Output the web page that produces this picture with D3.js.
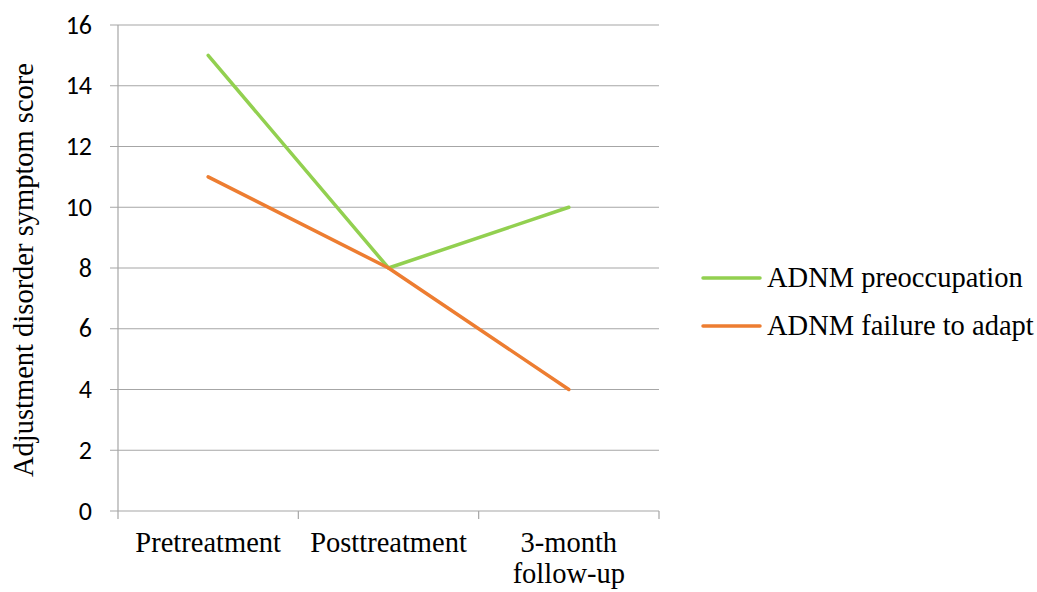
<!DOCTYPE html>
<html><head><meta charset="utf-8">
<script src="https://cdn.jsdelivr.net/npm/d3@7"></script>
<style>body{margin:0;background:#fff;} svg{display:block;}</style>
</head><body>
<svg id="c" width="1037" height="592"></svg>
<script>
const categories = [["Pretreatment"], ["Posttreatment"], ["3-month", "follow-up"]];
const seriesNames = ["ADNM preoccupation", "ADNM failure to adapt"];
const preoccupation = [15, 8, 10];
const failureToAdapt = [11, 8, 4];
const yTicks = [0, 2, 4, 6, 8, 10, 12, 14, 16];
const colors = ["#92D050", "#ED7D31"];

(function(){
const SERIF = '"Liberation Serif"';
const SANS = '"Carlito"';
const svg = d3.select("#c");
const pLeft = 118, pRight = 659, pTop = 25, pBottom = 511;
const x = d3.scaleBand().domain(d3.range(categories.length)).range([pLeft, pRight]);
const y = d3.scaleLinear().domain([0, 16]).range([pBottom, pTop]);

svg.append("g").selectAll("line").data(yTicks).join("line")
  .attr("x1", pLeft - 8).attr("x2", pRight)
  .attr("y1", d => y(d)).attr("y2", d => y(d))
  .attr("stroke", "#A6A6A6").attr("stroke-width", 1.2);

svg.append("line").attr("x1", pLeft).attr("x2", pLeft).attr("y1", pTop).attr("y2", pBottom)
  .attr("stroke", "#A6A6A6").attr("stroke-width", 1.2);

const bounds = [pLeft].concat(d3.range(categories.length).map(i => x(i) + x.bandwidth()));
svg.append("g").selectAll("line").data(bounds).join("line")
  .attr("x1", d => d).attr("x2", d => d).attr("y1", pBottom).attr("y2", pBottom + 8)
  .attr("stroke", "#A6A6A6").attr("stroke-width", 1.2);

svg.append("g").selectAll("text").data(yTicks).join("text")
  .style("font-family", SANS)
  .attr("x", 92).attr("y", d => y(d)).attr("dy", "0.33em")
  .attr("text-anchor", "end")
  .attr("font-size", 26).attr("fill", "#000").text(d => d);

const cl = svg.append("g").selectAll("text").data(categories).join("text")
  .style("font-family", SERIF)
  .attr("x", (d, i) => x(i) + x.bandwidth() / 2).attr("y", 552)
  .attr("text-anchor", "middle")
  .attr("font-size", 28.5).attr("fill", "#000");
cl.selectAll("tspan").data((d, i) => d.map(t => ({t, i}))).join("tspan")
  .attr("x", d => x(d.i) + x.bandwidth() / 2).attr("dy", (d, j) => j === 0 ? 0 : 31).text(d => d.t);

svg.append("text").style("font-family", SERIF)
  .attr("transform", `translate(33,270) rotate(-90)`)
  .attr("text-anchor", "middle")
  .attr("font-size", 28.5).attr("fill", "#000").text("Adjustment disorder symptom score");

const line = d3.line().x((d, i) => x(i) + x.bandwidth() / 2).y(d => y(d));
[preoccupation, failureToAdapt].forEach((s, k) => {
  svg.append("path").attr("d", line(s)).attr("fill", "none")
    .attr("stroke", colors[k]).attr("stroke-width", 3.5).attr("stroke-linecap", "round")
    .attr("stroke-linejoin", "round");
});

const lg = svg.append("g").selectAll("g").data(seriesNames).join("g")
  .attr("transform", (d, i) => `translate(703,${278 + i * 48})`);
lg.append("line").attr("x1", 0).attr("x2", 57).attr("y1", 0).attr("y2", 0)
  .attr("stroke", (d, i) => colors[i]).attr("stroke-width", 3.5).attr("stroke-linecap", "round");
lg.append("text").style("font-family", SERIF).attr("x", 64).attr("y", 9)
  .attr("font-size", 28.5).attr("fill", "#000").text(d => d);
})();
</script>
</body></html>
